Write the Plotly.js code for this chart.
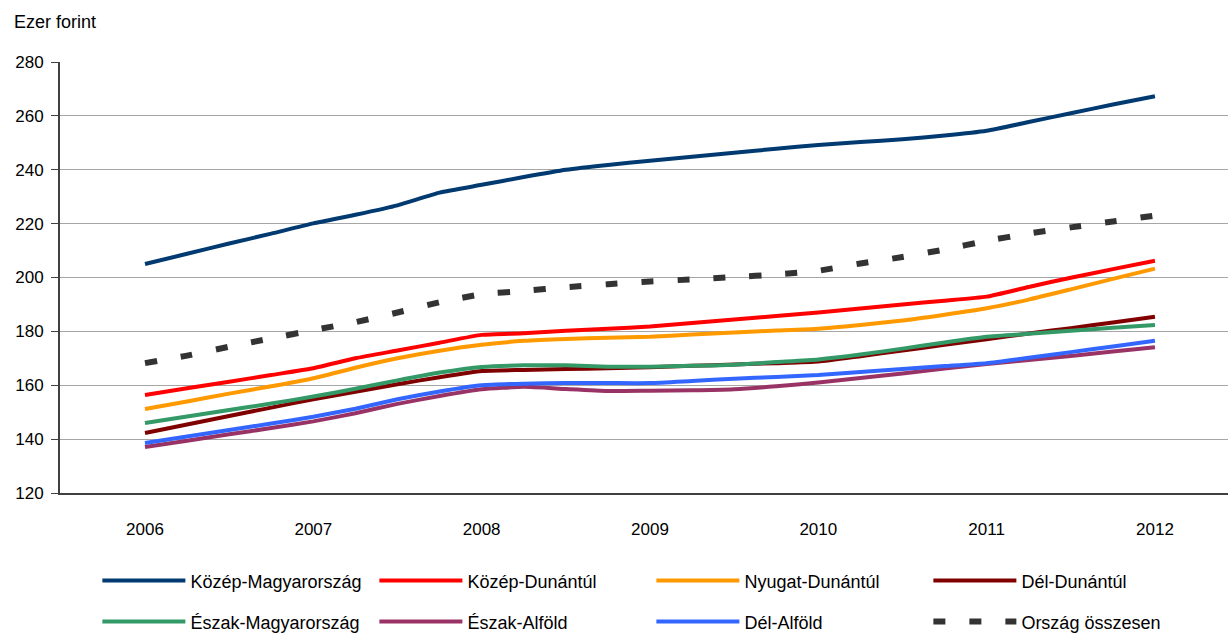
<!DOCTYPE html>
<html>
<head>
<meta charset="utf-8">
<script src="https://cdn.plot.ly/plotly-3.0.1.min.js"></script>
<style>html,body{margin:0;padding:0;background:#fff;}#chart{width:1228px;height:633px;}</style>
</head>
<body>
<div id="chart"></div>
<script>
// Quarterly positions from 2006 to 2012
const periods = [2006,2006.25,2006.5,2006.75,2007,2007.25,2007.5,2007.75,2008,2008.25,2008.5,2008.75,2009,2009.25,2009.5,2009.75,2010,2010.25,2010.5,2010.75,2011,2011.25,2011.5,2011.75,2012];
const yearTicks = [2006,2007,2008,2009,2010,2011,2012];
const yearLabels = ['2006','2007','2008','2009','2010','2011','2012'];

const kozepMagyarorszag = [205.0,208.8,212.6,216.3,220.1,223.3,226.8,231.5,234.4,237.3,240.0,241.8,243.3,244.8,246.3,247.8,249.2,250.3,251.3,252.7,254.5,257.7,261.0,264.2,267.3];
const kozepDunantul = [156.4,158.9,161.3,163.8,166.3,170.0,172.9,175.8,178.7,179.3,180.2,181.0,181.8,183.1,184.4,185.7,187.0,188.5,190.0,191.4,192.9,196.5,199.9,203.1,206.2];
const nyugatDunantul = [151.2,154.0,156.9,159.6,162.6,166.5,170.0,172.8,175.0,176.5,177.2,177.6,178.0,178.8,179.6,180.3,181.0,182.4,184.0,186.2,188.6,191.8,195.6,199.5,203.3];
const delDunantul = [142.3,145.4,148.6,151.7,154.8,157.6,160.4,163.0,165.3,165.7,166.0,166.3,166.7,167.2,167.7,168.2,168.8,170.8,172.9,175.0,177.1,179.2,181.2,183.3,185.4];
const eszakMagyarorszag = [146.0,148.4,150.8,153.2,155.8,158.7,161.8,164.7,166.8,167.4,167.4,166.9,166.9,167.2,167.6,168.6,169.6,171.4,173.6,175.9,178.0,179.1,180.2,181.3,182.4];
const eszakAlfold = [137.1,139.4,141.8,144.1,146.6,149.6,153.1,156.0,158.5,159.4,158.6,157.9,158.0,158.1,158.5,159.6,161.0,162.7,164.4,166.2,167.9,169.4,170.9,172.5,174.1];
const delAlfold = [138.6,141.0,143.4,145.8,148.3,151.3,154.8,157.7,160.0,160.6,160.8,160.8,160.8,161.6,162.4,163.1,163.8,164.9,166.0,167.1,168.2,170.2,172.3,174.4,176.5];
const orszagOsszesen = [168.2,171.0,174.3,177.4,180.5,183.4,187.0,190.8,193.8,195.0,196.4,197.5,198.5,199.3,200.2,201.1,202.5,205.2,207.6,210.4,213.6,216.3,218.6,220.8,223.0];

const seriesNames = ['Közép-Magyarország','Közép-Dunántúl','Nyugat-Dunántúl','Dél-Dunántúl','Észak-Magyarország','Észak-Alföld','Dél-Alföld','Ország összesen'];
const seriesValues = [kozepMagyarorszag,kozepDunantul,nyugatDunantul,delDunantul,eszakMagyarorszag,eszakAlfold,delAlfold,orszagOsszesen];
const seriesColors = ['#003A70','#FF0000','#FF9900','#800000','#339966','#993366','#3366FF','#333333'];
const seriesLegend = ['legend','legend','legend','legend','legend2','legend2','legend2','legend2'];

const FONT = 'Arial, "Liberation Sans", sans-serif';

const traces = seriesNames.map((name, i) => {
  const dashed = i === 7;
  return {
    type: 'scatter',
    mode: 'lines',
    name: name,
    x: periods,
    y: seriesValues[i],
    legend: seriesLegend[i],
    line: {
      color: seriesColors[i],
      width: dashed ? 6 : 4,
      dash: dashed ? '12px,24px' : 'solid',
      shape: 'spline',
      smoothing: 0.5
    },
    hoverinfo: 'x+y+name'
  };
});

const legendCommon = {
  orientation: 'h',
  xanchor: 'left',
  yanchor: 'middle',
  x: 0.032,
  entrywidth: 179,
  entrywidthmode: 'pixels',
  itemwidth: 83,
  font: {family: FONT, size: 18, color: '#000'},
  bgcolor: 'rgba(0,0,0,0)',
  traceorder: 'normal'
};

const layout = {
  width: 1228,
  height: 633,
  margin: {l: 60, r: 0, t: 62, b: 140, autoexpand: false},
  paper_bgcolor: '#fff',
  plot_bgcolor: '#fff',
  showlegend: true,
  font: {family: FONT, size: 17, color: '#000'},
  xaxis: {
    type: 'linear',
    range: [2005.495, 2012.434],
    tickvals: yearTicks,
    ticktext: yearLabels,
    showgrid: false,
    zeroline: false,
    showline: true,
    linecolor: '#404040',
    linewidth: 2,
    ticks: '',
    ticklabelstandoff: 20,
    tickfont: {family: FONT, size: 17, color: '#000'},
    fixedrange: true
  },
  yaxis: {
    range: [120, 280],
    dtick: 20,
    tick0: 120,
    showgrid: true,
    gridcolor: '#A6A6A6',
    gridwidth: 1,
    zeroline: false,
    showline: true,
    linecolor: '#404040',
    linewidth: 2,
    ticks: 'outside',
    ticklen: 7,
    tickcolor: '#404040',
    tickwidth: 1,
    ticklabelstandoff: 4,
    tickfont: {family: FONT, size: 17, color: '#000'},
    fixedrange: true
  },
  legend: Object.assign({}, legendCommon, {y: -0.204}),
  legend2: Object.assign({}, legendCommon, {y: -0.299}),
  annotations: [{
    text: 'Ezer forint',
    xref: 'paper', yref: 'paper',
    x: -0.041, y: 1.0,
    xanchor: 'left', yanchor: 'bottom',
    yshift: 28,
    showarrow: false,
    font: {family: FONT, size: 18, color: '#000'}
  }]
};

Plotly.newPlot('chart', traces, layout, {displayModeBar: false, staticPlot: true});
</script>
</body>
</html>
